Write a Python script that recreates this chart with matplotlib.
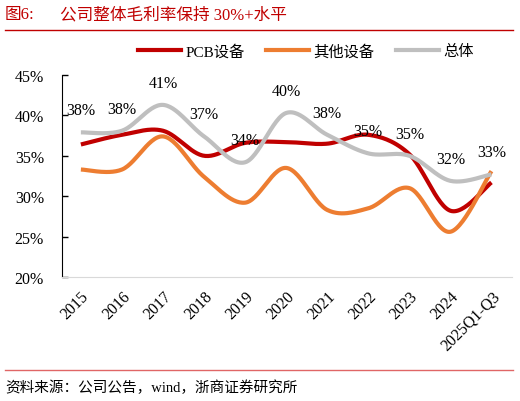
import numpy as np
import matplotlib.pyplot as plt
from matplotlib.lines import Line2D

plt.rcParams['font.family'] = ['Liberation Serif', 'Noto Sans CJK SC']

years = ['2015', '2016', '2017', '2018', '2019', '2020', '2021', '2022', '2023', '2024', '2025Q1-Q3']
pcb = [36.4, 37.6, 38.1, 35.0, 36.6, 36.7, 36.5, 37.6, 35.2, 28.2, 31.7]
other = [33.3, 33.3, 37.4, 32.4, 29.2, 33.5, 28.3, 28.5, 31.0, 25.6, 33.1]
total = [37.9, 38.1, 41.3, 37.4, 34.2, 40.3, 37.6, 35.3, 35.0, 31.9, 32.7]

names = ['PCB设备', '其他设备', '总体']
colors = ['#C00000', '#ED7D31', '#BFBFBF']


def smooth(xs, ys, n=30):
    # excel-like smoothed line: cubic bezier, catmull-rom tangents
    xs = np.asarray(xs, float)
    ys = np.asarray(ys, float)
    px = np.concatenate([[xs[0]], xs, [xs[-1]]])
    py = np.concatenate([[ys[0]], ys, [ys[-1]]])
    t = np.linspace(0, 1, n)
    outx, outy = [], []
    for i in range(len(xs) - 1):
        p0x, p3x = xs[i], xs[i + 1]
        p0y, p3y = ys[i], ys[i + 1]
        c1x = p0x + (px[i + 2] - px[i]) / 6
        c1y = p0y + (py[i + 2] - py[i]) / 6
        c2x = p3x - (px[i + 3] - px[i + 1]) / 6
        c2y = p3y - (py[i + 3] - py[i + 1]) / 6
        bx = (1 - t) ** 3 * p0x + 3 * (1 - t) ** 2 * t * c1x + 3 * (1 - t) * t ** 2 * c2x + t ** 3 * p3x
        by = (1 - t) ** 3 * p0y + 3 * (1 - t) ** 2 * t * c1y + 3 * (1 - t) * t ** 2 * c2y + t ** 3 * p3y
        outx.extend(bx)
        outy.extend(by)
    return np.array(outx), np.array(outy)


fig = plt.figure(figsize=(5.2, 4.02), dpi=100)
ax = fig.add_axes([62 / 520, 1 - 278 / 402, 450 / 520, 202 / 402])

x = np.arange(len(years))
for vals, c in zip([pcb, other, total], colors):
    sx, sy = smooth(x, vals)
    ax.plot(sx, sy, color=c, lw=3.0, solid_capstyle='butt')

for i, v in enumerate(total):
    ax.annotate(f'{round(v)}%', (i, v), xytext=(0, 16), textcoords='offset points',
                ha='center', va='center', fontsize=11.5, color='#000000')

ax.set_xlim(-0.46, 10.5)
ax.set_ylim(20, 45)
ax.set_yticks(range(20, 46, 5))
ax.set_yticklabels([f'{t}%' for t in range(20, 46, 5)], fontsize=11.5)
ax.set_xticks(x)
ax.set_xticklabels(years, rotation=45, ha='right', rotation_mode='anchor', fontsize=11.5)
ax.tick_params(axis='x', length=0, pad=8)
ax.tick_params(axis='y', direction='in', length=4, width=1, pad=13)
for s in ['top', 'right']:
    ax.spines[s].set_visible(False)
ax.spines['left'].set_color('black')
ax.spines['bottom'].set_color('#D9D9D9')

handles = [Line2D([], [], color=c, lw=3.0) for c in colors]
fig.legend(handles, names, loc='center', bbox_to_anchor=(306 / 520, 1 - 52 / 402),
           ncol=3, frameon=False, fontsize=11, handlelength=2.8, columnspacing=1.4,
           handletextpad=0.3)

fig.text(5 / 520, 1 - 15 / 402, '图6:', color='#C00000', fontsize=12, va='center')
fig.text(60 / 520, 1 - 15 / 402, '公司整体毛利率保持 30%+水平', color='#C00000', fontsize=12, va='center')
fig.add_artist(Line2D([5 / 520, 513 / 520], [1 - 31 / 402, 1 - 31 / 402], color='#C00000', lw=1))
fig.add_artist(Line2D([5 / 520, 513 / 520], [1 - 371 / 402, 1 - 371 / 402], color='#E06666', lw=1))
fig.text(5 / 520, 1 - 388 / 402, '资料来源：公司公告，wind，浙商证券研究所', fontsize=10.5, va='center')

fig.savefig('out.png', dpi=100)
